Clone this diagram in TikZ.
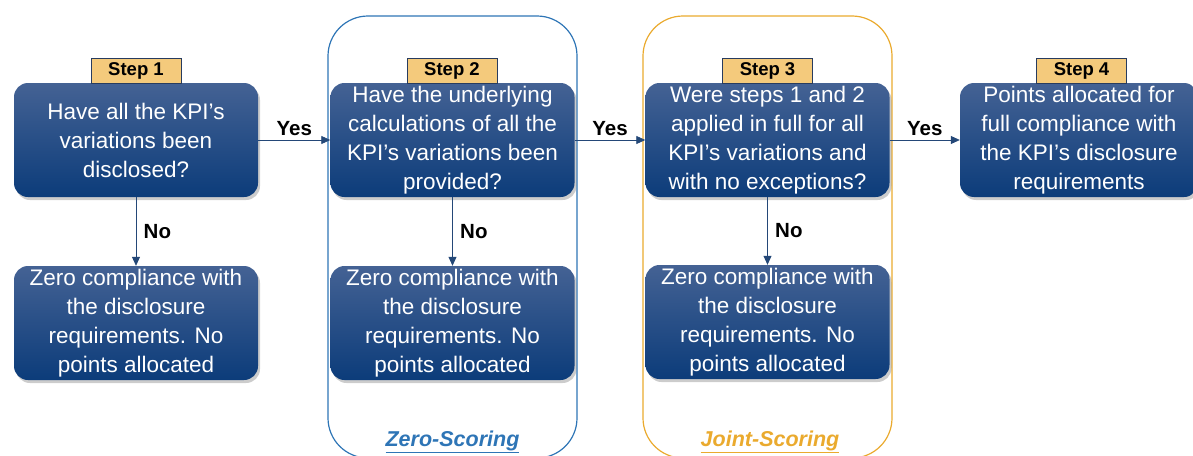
\documentclass[tikz,border=0pt]{standalone}
\usepackage{fontspec}
\setmainfont{Liberation Sans}
\usetikzlibrary{arrows.meta,shadows}
\definecolor{boxtop}{RGB}{68,98,148}
\definecolor{boxbot}{RGB}{12,60,122}
\definecolor{stepfill}{RGB}{244,202,124}
\definecolor{stepdraw}{RGB}{40,60,95}
\definecolor{arrcol}{RGB}{36,72,120}
\definecolor{zblue}{RGB}{46,117,182}
\definecolor{jorange}{RGB}{234,170,46}
\tikzset{
  qbox/.style={rectangle, rounded corners=14pt, minimum width=244pt, minimum height=114pt,
    text=white, align=center, font=\fontsize{22.5}{29}\selectfont, inner sep=1pt,
    top color=boxtop, bottom color=boxbot, draw=none,
    drop shadow={opacity=0.4, shadow xshift=2pt, shadow yshift=-3pt}},
  steplabel/.style={rectangle, fill=stepfill, draw=stepdraw, line width=0.8pt,
    minimum width=90pt, minimum height=25pt, inner sep=0pt, font=\bfseries\fontsize{18.5}{18.5}\selectfont},
  arr/.style={draw=arrcol, line width=0.8pt, -{Triangle[length=9pt,width=8pt]}},
  lbl/.style={font=\bfseries\fontsize{20.5}{20.5}\selectfont, text=black},
  container/.style={rectangle, rounded corners=40pt, line width=1.2pt, fill=none}
}
\begin{document}
\begin{tikzpicture}[x=1pt,y=-1pt]
\useasboundingbox (0,0) rectangle (1193,455);
% containers
\node[container, draw=zblue, minimum width=249pt, minimum height=442pt] (zc) at (452.5,237) {};
\node[container, draw=jorange, minimum width=249pt, minimum height=442pt] (jc) at (767.5,237) {};
\node[font=\bfseries\itshape\fontsize{21.5}{21.5}\selectfont, text=zblue] (zl) at (452.5,442) {\underline{Zero-Scoring}};
\node[font=\bfseries\itshape\fontsize{21.5}{21.5}\selectfont, text=jorange] (jl) at (770,442) {\underline{Joint-Scoring}};
% boxes
\node[qbox] (b1) at (136,140) {Have all the KPI’s\\variations been\\disclosed?};
\node[qbox] (b1n) at (136,323) {Zero compliance with\\the disclosure\\requirements. No\\points allocated};
\node[qbox] (b2) at (452.5,140) {Have the underlying\\calculations of all the\\KPI’s variations been\\provided?};
\node[qbox] (b2n) at (452.5,323) {Zero compliance with\\the disclosure\\requirements. No\\points allocated};
\node[qbox] (b3) at (767.5,140) {Were steps 1 and 2\\applied in full for all\\KPI’s variations and\\with no exceptions?};
\node[qbox] (b3n) at (767.5,322) {Zero compliance with\\the disclosure\\requirements. No\\points allocated};
\node[qbox, minimum width=238pt] (b4) at (1079,140) {Points allocated for\\full compliance with\\the KPI’s disclosure\\requirements};
% step labels
\node[steplabel] (s1) at (136,70.5) {Step 1};
\node[steplabel] (s2) at (452,70.5) {Step 2};
\node[steplabel] (s3) at (767.5,70.5) {Step 3};
\node[steplabel] (s4) at (1081.5,70.5) {Step 4};
% arrows
\draw[arr] (b1.east) -- node[lbl, above=1pt] {Yes} (b2.west);
\draw[arr] (b2.east) -- node[lbl, above=1pt] {Yes} (b3.west);
\draw[arr] (b3.east) -- node[lbl, above=1pt] {Yes} (b4.west);
\draw[arr] (b1.south) -- node[lbl, right=4pt] {No} (b1n.north);
\draw[arr] (b2.south) -- node[lbl, right=4pt] {No} (b2n.north);
\draw[arr] (b3.south) -- node[lbl, right=4pt] {No} (b3n.north);
\end{tikzpicture}
\end{document}
